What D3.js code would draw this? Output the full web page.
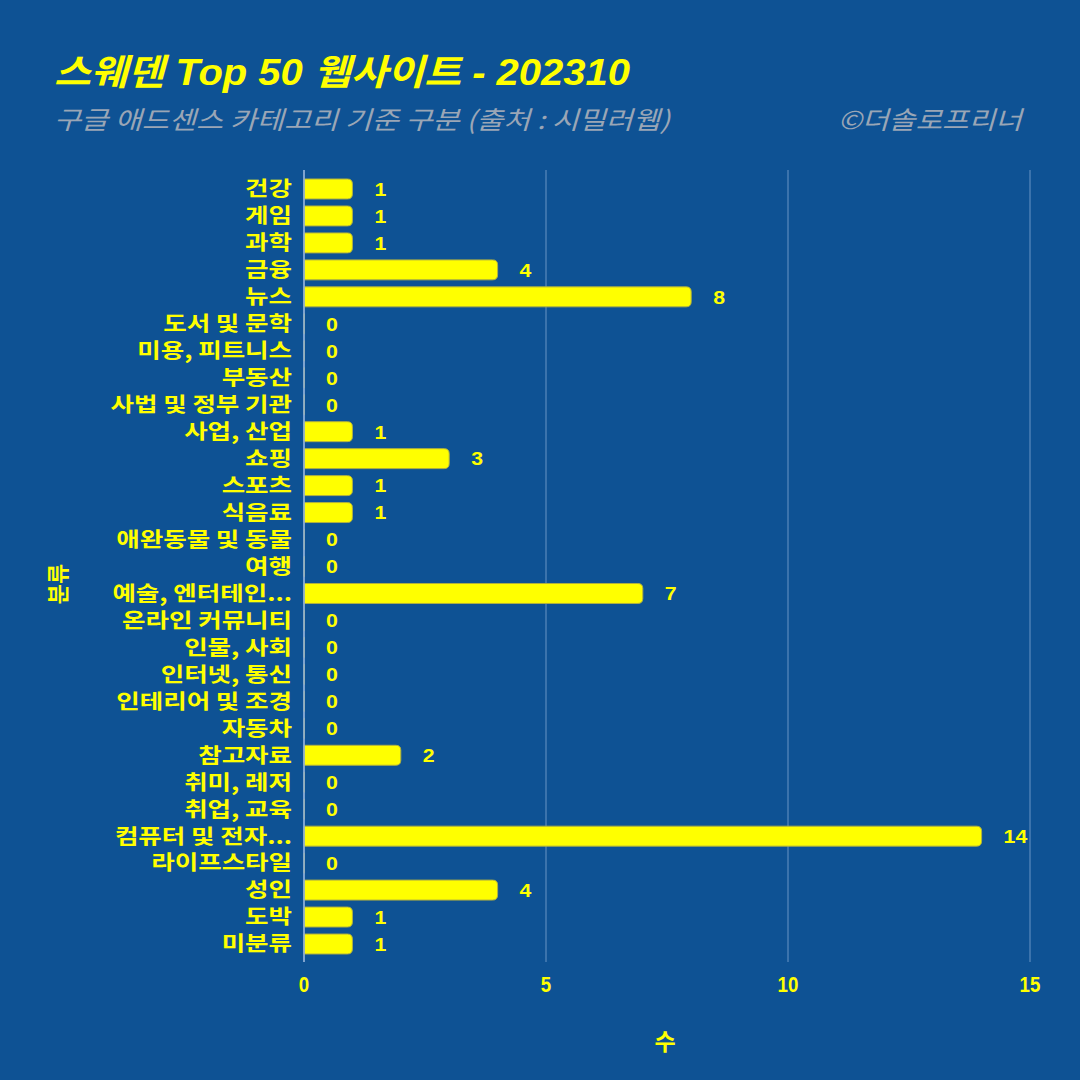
<!DOCTYPE html>
<html><head><meta charset="utf-8">
<script src="https://cdn.jsdelivr.net/npm/d3@7"></script>
<style>
html,body{margin:0;padding:0;background:#0e5294;}
svg{display:block;}
text{font-family:"Liberation Sans","Noto Sans CJK KR",sans-serif;}
</style></head>
<body>
<svg id="c" width="1080" height="1080"></svg>
<script>
const categories = ["건강","게임","과학","금융","뉴스","도서 및 문학","미용, 피트니스","부동산","사법 및 정부 기관","사업, 산업","쇼핑","스포츠","식음료","애완동물 및 동물","여행","예술, 엔터테인...","온라인 커뮤니티","인물, 사회","인터넷, 통신","인테리어 및 조경","자동차","참고자료","취미, 레저","취업, 교육","컴퓨터 및 전자...","라이프스타일","성인","도박","미분류"];
const values = [1,1,1,4,8,0,0,0,0,1,3,1,1,0,0,7,0,0,0,0,0,2,0,0,14,0,4,1,1];
const xTicks = [0,5,10,15];
const title = "스웨덴 Top 50 웹사이트 - 202310";
const subtitle = "구글 애드센스 카테고리 기준 구분 (출처 : 시밀러웹)";
const credit = "©더솔로프리너";
const xTitle = "수";
const yTitle = "분류";

const svg = d3.select("#c");
const W = 1080, H = 1080;
svg.append("rect").attr("width",W).attr("height",H).attr("fill","#0e5294");

const x = d3.scaleLinear().domain([0,15]).range([304,1030]);
const y = d3.scaleBand().domain(categories).range([175.5,957.5]).paddingInner(0.26).paddingOuter(0.13);

const yellow = "#ffff00";
const kfont = "'Noto Sans CJK KR','Liberation Sans',sans-serif";
const lfont = "'Liberation Sans','Noto Sans CJK KR',sans-serif";

// gridlines
svg.append("g").selectAll("line").data(xTicks).join("line")
  .attr("x1",d=>x(d)).attr("x2",d=>x(d)).attr("y1",170).attr("y2",962)
  .attr("stroke","#5f8fc0").attr("stroke-width",1.5).attr("opacity",0.75);

// bars with rounded right corners
const r = 5;
const rows = categories.map((c,i)=>({c,v:values[i]}));
svg.append("g").selectAll("path").data(rows).join("path")
  .attr("d",d=>{
    const x0 = x(0), x1 = x(d.v), y0 = y(d.c), h = y.bandwidth();
    if (d.v===0) return `M${x0},${y0}h0.5v${h}h-0.5Z`;
    const rr = Math.min(r,(x1-x0)/2,h/2);
    return `M${x0},${y0}H${x1-rr}Q${x1},${y0} ${x1},${y0+rr}V${y0+h-rr}Q${x1},${y0+h} ${x1-rr},${y0+h}H${x0}Z`;
  })
  .attr("fill",yellow).attr("stroke","#b0b040").attr("stroke-width",1);

// value labels
svg.append("g").selectAll("text").data(rows).join("text")
  .attr("transform",d=>`translate(${x(d.v)+22},${y(d.c)+y.bandwidth()/2}) scale(1.12,1)`)
  .attr("dy","0.36em")
  .attr("fill",yellow).attr("font-weight","bold").attr("font-size",19)
  .style("font-family",lfont)
  .text(d=>d.v);

// category labels
svg.append("g").selectAll("text").data(categories).join("text")
  .attr("transform",d=>`translate(292,${y(d)+y.bandwidth()/2}) scale(1.25,1)`)
  .attr("dy","0.36em")
  .attr("text-anchor","end").attr("fill",yellow).attr("font-weight","bold").attr("font-size",20.4)
  .style("font-family",kfont)
  .text(d=>d);

// axis line
svg.append("line").attr("x1",x(0)).attr("x2",x(0)).attr("y1",170).attr("y2",962)
  .attr("stroke","#8fb0d8").attr("stroke-width",2).attr("opacity",0.8);

// x tick labels
svg.append("g").selectAll("text").data(xTicks).join("text")
  .attr("transform",d=>`translate(${x(d)},992) scale(0.85,1)`)
  .attr("text-anchor","middle")
  .attr("fill",yellow).attr("font-weight","bold").attr("font-size",22)
  .style("font-family",lfont)
  .text(d=>d);

// axis titles
svg.append("text").attr("x",665).attr("y",1050).attr("text-anchor","middle")
  .attr("fill",yellow).attr("font-weight","bold").attr("font-size",23).style("font-family",kfont).text(xTitle);
svg.append("text").attr("transform","translate(66,584) rotate(-90)").attr("text-anchor","middle")
  .attr("fill",yellow).attr("font-weight","bold").attr("font-size",22)
  .style("font-family",kfont).text(yTitle);

// titles
svg.append("text").attr("x",54).attr("y",85).attr("fill",yellow).attr("font-weight","bold")
  .attr("font-style","italic").attr("font-size",36).style("font-family",lfont)
  .attr("textLength",576).attr("lengthAdjust","spacingAndGlyphs").text(title);
svg.append("text").attr("x",54).attr("y",129).attr("fill","#9aa6b6")
  .attr("font-style","italic").attr("font-size",25).style("font-family",kfont)
  .attr("textLength",616).attr("lengthAdjust","spacingAndGlyphs").text(subtitle);
svg.append("text").attr("x",838).attr("y",129).attr("fill","#9aa6b6")
  .attr("font-style","italic").attr("font-size",25).style("font-family",kfont)
  .attr("textLength",184).attr("lengthAdjust","spacingAndGlyphs").text(credit);
</script>
</body></html>
